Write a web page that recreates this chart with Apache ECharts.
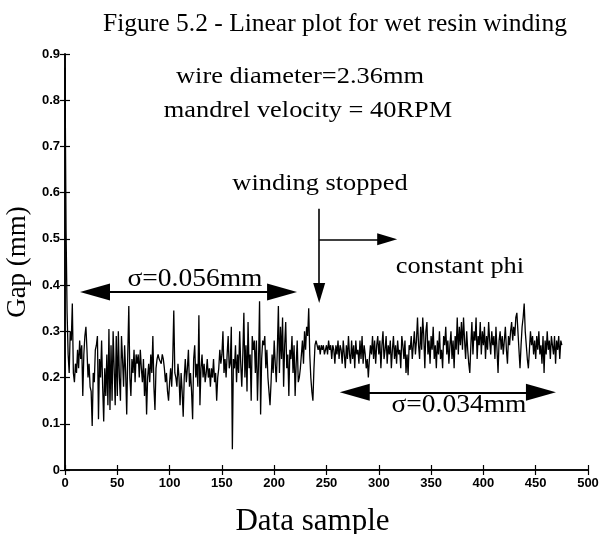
<!DOCTYPE html>
<html>
<head>
<meta charset="utf-8">
<script src="https://cdn.jsdelivr.net/npm/echarts@6/dist/echarts.min.js"></script>
<style>html,body{margin:0;padding:0;background:#fff}#c{width:599px;height:534px}</style>
</head>
<body>
<div id="c"></div>
<script>
// ---- data ----
const xTicks = [0, 50, 100, 150, 200, 250, 300, 350, 400, 450, 500];
const yTicks = [0, 0.1, 0.2, 0.3, 0.4, 0.5, 0.6, 0.7, 0.8, 0.9];
const gapWinding = [
0.87,0.52,0.34,0.25,0.21,0.30,0.28,0.36,0.21,0.19,
0.23,0.21,0.26,0.22,0.28,0.24,0.27,0.16,0.25,0.29,
0.31,0.26,0.20,0.23,0.18,0.17,0.095,0.21,0.19,0.26,
0.27,0.29,0.11,0.24,0.20,0.28,0.18,0.105,0.22,0.16,
0.25,0.14,0.305,0.13,0.27,0.15,0.30,0.22,0.14,0.29,
0.16,0.30,0.20,0.15,0.29,0.24,0.18,0.27,0.21,0.12,
0.25,0.355,0.20,0.16,0.24,0.21,0.26,0.19,0.25,0.23,
0.25,0.20,0.26,0.22,0.19,0.24,0.16,0.22,0.12,0.20,
0.23,0.19,0.25,0.21,0.29,0.18,0.13,0.22,0.24,0.25,
0.24,0.24,0.23,0.25,0.24,0.22,0.19,0.21,0.17,0.15,
0.19,0.22,0.18,0.24,0.345,0.21,0.20,0.18,0.23,0.20,
0.14,0.21,0.17,0.115,0.20,0.24,0.19,0.22,0.26,0.18,
0.21,0.17,0.11,0.24,0.27,0.20,0.23,0.18,0.335,0.14,
0.22,0.25,0.20,0.23,0.19,0.21,0.24,0.20,0.22,0.18,
0.22,0.20,0.24,0.19,0.21,0.15,0.20,0.22,0.26,0.23,
0.25,0.30,0.21,0.24,0.20,0.25,0.29,0.22,0.23,0.31,
0.045,0.24,0.22,0.27,0.19,0.25,0.21,0.30,0.23,0.18,
0.25,0.34,0.20,0.27,0.17,0.32,0.22,0.25,0.15,0.29,
0.26,0.28,0.21,0.28,0.15,0.23,0.365,0.12,0.24,0.28,
0.27,0.29,0.22,0.26,0.20,0.17,0.14,0.19,0.25,0.21,
0.28,0.23,0.19,0.26,0.355,0.21,0.31,0.24,0.33,0.18,
0.27,0.32,0.22,0.25,0.16,0.26,0.24,0.29,0.21,0.27,
0.16,0.23,0.28,0.19,0.20,0.22,0.25,0.28,0.23,0.30,
0.26,0.31,0.29,0.35,0.25,0.20,0.17,0.15,0.22,0.27
];
const gapStopped = [
0.28,0.27,0.26,0.27,0.25,0.27,0.26,0.27,0.25,0.26,
0.27,0.25,0.28,0.26,0.27,0.24,0.27,0.26,0.23,0.27,
0.25,0.28,0.24,0.27,0.26,0.23,0.28,0.25,0.22,0.27,
0.24,0.29,0.25,0.23,0.28,0.24,0.27,0.22,0.28,0.25,
0.26,0.23,0.28,0.24,0.29,0.23,0.27,0.25,0.22,0.24,
0.20,0.24,0.27,0.25,0.29,0.24,0.28,0.23,0.27,0.29,
0.25,0.28,0.22,0.27,0.30,0.24,0.26,0.29,0.23,0.27,
0.25,0.28,0.22,0.26,0.29,0.24,0.27,0.23,0.28,0.25,
0.26,0.22,0.29,0.27,0.24,0.28,0.21,0.25,0.205,0.27,
0.26,0.29,0.24,0.27,0.30,0.25,0.28,0.33,0.27,0.24,
0.31,0.26,0.33,0.29,0.22,0.30,0.32,0.25,0.28,0.23,
0.29,0.26,0.31,0.24,0.27,0.22,0.28,0.25,0.30,0.24,
0.26,0.22,0.29,0.27,0.31,0.25,0.28,0.23,0.27,0.30,
0.24,0.28,0.22,0.29,0.26,0.33,0.25,0.31,0.27,0.32,
0.26,0.33,0.28,0.24,0.30,0.26,0.23,0.21,0.27,0.32,
0.25,0.30,0.28,0.33,0.24,0.29,0.27,0.32,0.25,0.30,
0.27,0.31,0.24,0.29,0.26,0.32,0.28,0.25,0.30,0.27,
0.29,0.24,0.31,0.26,0.21,0.28,0.30,0.26,0.29,0.25,
0.28,0.31,0.26,0.23,0.29,0.27,0.30,0.32,0.28,0.31,
0.29,0.33,0.34,0.30,0.26,0.22,0.27,0.31,0.33,0.36,
0.30,0.27,0.24,0.22,0.26,0.30,0.27,0.29,0.25,0.28,
0.24,0.29,0.26,0.30,0.25,0.27,0.23,0.29,0.21,0.28,
0.25,0.30,0.26,0.28,0.24,0.29,0.27,0.25,0.29,0.23,
0.28,0.26,0.29,0.24,0.28,0.27
];
const gap = gapWinding.concat(gapStopped);
// annotation arrows in data coordinates [x, y] (symbol centres)
const sigmaWindArrow = [[28.7, 0.385], [207.5, 0.385]];
const sigmaPhiArrow = [[277, 0.168], [455, 0.168]];
const stopArrow = [[243, 0.565], [243, 0.383]];
const phiArrow = [[243, 0.499], [308, 0.499]];

const serif = '"Liberation Serif","Times New Roman",Times,serif';
const sans = '"Liberation Sans",Arial,Helvetica,sans-serif';
const chart = echarts.init(document.getElementById('c'));
const axisBase = {
  type: 'value',
  axisLine: { show: true, lineStyle: { color: '#000', width: 1.6 } },
  axisTick: { show: true, inside: true, length: 5, lineStyle: { color: '#000', width: 1.2 } },
  splitLine: { show: false }
};
function arrowLine(pts) {
  return [{ coord: pts[0] }, { coord: pts[1] }];
}
function note(text, x, y, size) {
  return {
    type: 'text', x: x, y: y, scaleX: 1.1, silent: true,
    style: { text: text, font: size + 'px ' + serif, fill: '#000', textAlign: 'center', textVerticalAlign: 'middle' }
  };
}
chart.setOption({
  animation: false,
  backgroundColor: '#fff',
  title: {
    text: 'Figure 5.2 - Linear plot for wet resin winding',
    left: 330, top: 6, textAlign: 'center',
    textStyle: { fontFamily: serif, fontSize: 25.5, fontWeight: 'normal', color: '#000' }
  },
  grid: { left: 65, right: 11, top: 54, bottom: 64, containLabel: false, outerBoundsMode: 'none' },
  xAxis: [
    Object.assign({}, axisBase, {
      min: 0, max: 500, interval: 50, position: 'bottom',
      name: 'Data sample', nameLocation: 'middle', nameGap: 36,
      nameTextStyle: { fontFamily: serif, fontSize: 31, color: '#000', padding: [0, 28, 0, 0] },
      axisLabel: { fontFamily: sans, fontSize: 13, fontWeight: 'bold', color: '#000', margin: 7 }
    }),
    Object.assign({}, axisBase, {
      min: 0, max: 500, interval: 50, position: 'top', axisLabel: { show: false }
    })
  ],
  yAxis: [
    Object.assign({}, axisBase, {
      min: 0, max: 0.9, interval: 0.1, position: 'left',
      name: 'Gap (mm)', nameLocation: 'middle', nameGap: 25,
      nameTextStyle: { fontFamily: serif, fontSize: 27, color: '#000' },
      axisLabel: {
        fontFamily: sans, fontSize: 13, fontWeight: 'bold', color: '#000', margin: 5,
        formatter: v => (v === 0 ? '0' : v.toFixed(1))
      }
    }),
    Object.assign({}, axisBase, {
      min: 0, max: 0.9, interval: 0.1, position: 'right', axisLabel: { show: false }
    })
  ],
  series: [
    {
      type: 'line',
      data: gap.map((v, i) => [i, v]),
      showSymbol: false,
      symbol: 'none',
      lineStyle: { color: '#000', width: 1.3 },
      silent: true,
      z: 3
    },
    {
      type: 'line',
      data: [],
      silent: true,
      markLine: {
        silent: true,
        symbol: ['triangle', 'triangle'],
        symbolSize: [17, 30],
        label: { show: false },
        lineStyle: { color: '#000', width: 2, type: 'solid' },
        emphasis: { disabled: true },
        data: [arrowLine(sigmaWindArrow), arrowLine(sigmaPhiArrow)]
      }
    },
    {
      type: 'line',
      data: [],
      silent: true,
      markLine: {
        silent: true,
        symbol: ['none', 'triangle'],
        symbolSize: [12, 20],
        label: { show: false },
        lineStyle: { color: '#000', width: 1.6, type: 'solid' },
        emphasis: { disabled: true },
        data: [arrowLine(stopArrow), arrowLine(phiArrow)]
      }
    }
  ],
  graphic: [
    note('wire diameter=2.36mm', 300, 77, 24),
    note('mandrel velocity = 40RPM', 308, 111, 24),
    note('winding stopped', 320, 184, 24),
    note('constant phi', 460, 267, 24),
    note('σ=0.056mm', 195, 279, 25),
    note('σ=0.034mm', 459, 405, 25)
  ]
});
</script>
</body>
</html>
